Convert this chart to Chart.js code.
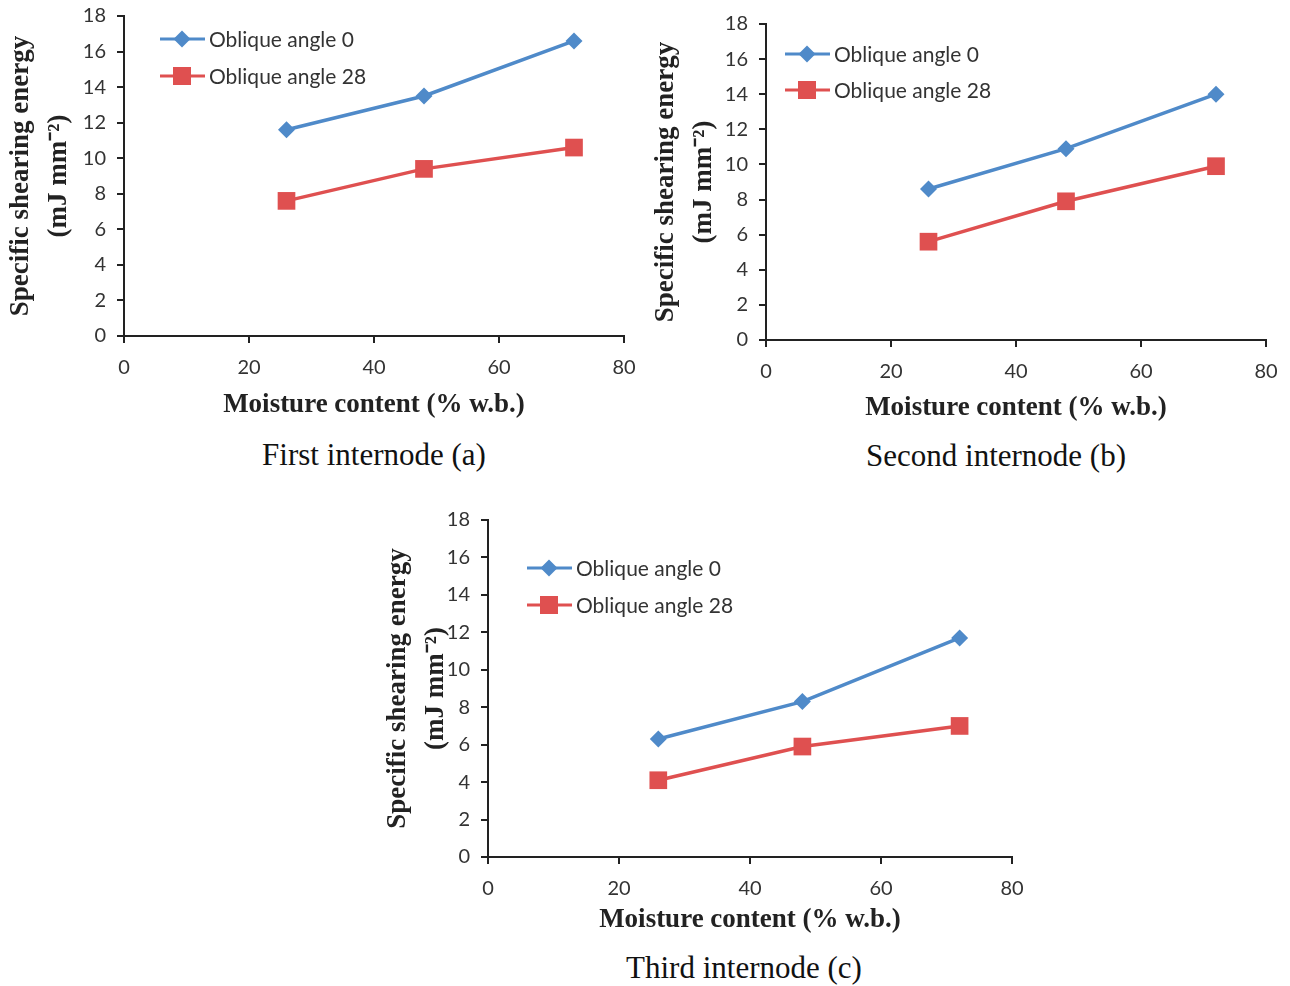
<!DOCTYPE html>
<html>
<head>
<meta charset="utf-8">
<script src="https://cdn.jsdelivr.net/npm/chart.js@4.4.0/dist/chart.umd.min.js"></script>
<style>
  body { margin: 0; background: #fff; }
  #page { position: relative; width: 1290px; height: 986px; overflow: hidden; }
  .box { position: absolute; }
  .caption { position: absolute; font-family: "Liberation Serif", "Times New Roman", serif; font-size: 31px; color: #111; transform: translate(-50%, -50%); white-space: nowrap; }
</style>
</head>
<body>
<div id="page">
  <div class="box" style="left:0px;top:0px"><canvas id="chartA" width="640" height="425"></canvas></div>
  <div class="box" style="left:640px;top:0px"><canvas id="chartB" width="650" height="430"></canvas></div>
  <div class="box" style="left:370px;top:490px"><canvas id="chartC" width="660" height="450"></canvas></div>
  <div class="caption" style="left:374px;top:455px">First internode (a)</div>
  <div class="caption" style="left:996px;top:456px">Second internode (b)</div>
  <div class="caption" style="left:744px;top:968px">Third internode (c)</div>
</div>
<script>
// data
const moisture = [26, 48, 72]
const seriesNames = ['Oblique angle 0', 'Oblique angle 28']

const firstAngle0 = [11.6, 13.5, 16.6]
const firstAngle28 = [7.6, 9.4, 10.6]
const secondAngle0 = [8.6, 10.9, 14.0]
const secondAngle28 = [5.6, 7.9, 9.9]
const thirdAngle0 = [6.3, 8.3, 11.7]
const thirdAngle28 = [4.1, 5.9, 7.0]

const blue = '#4f8ac9'
const red = '#df5050'
const tickFont = { family: 'Lato, "Open Sans", sans-serif', size: 20 }

function drawMarker(ctx, style, x, y, color) {
    ctx.save()
    ctx.fillStyle = color
    ctx.beginPath()
    if (style === 'rectRot') {
        const r = 8.5
        ctx.moveTo(x, y - r)
        ctx.lineTo(x + r, y)
        ctx.lineTo(x, y + r)
        ctx.lineTo(x - r, y)
    } else {
        ctx.rect(x - 9, y - 9, 18, 18)
    }
    ctx.closePath()
    ctx.fill()
    ctx.restore()
}

// legend sits inside the plot area, like the original
const insideLegend = {
    id: 'insideLegend',
    afterDraw(chart, args, opts) {
        const ctx = chart.ctx
        const area = chart.chartArea
        chart.data.datasets.forEach((ds, i) => {
            const x0 = area.left + opts.dx
            const y = area.top + opts.dy + i * opts.gap
            ctx.save()
            ctx.strokeStyle = ds.borderColor
            ctx.lineWidth = 3
            ctx.beginPath()
            ctx.moveTo(x0, y)
            ctx.lineTo(x0 + 45, y)
            ctx.stroke()
            drawMarker(ctx, ds.pointStyle, x0 + 22, y, ds.borderColor)
            ctx.fillStyle = '#333'
            ctx.font = '21px Lato, "Open Sans", sans-serif'
            ctx.textBaseline = 'middle'
            ctx.fillText(ds.label, x0 + 49, y + 1)
            ctx.restore()
        })
    }
}

function makeChart(id, angle0, angle28, lay) {
    const ctx = document.getElementById(id).getContext('2d')
    return new Chart(ctx, {
        type: 'line',
        data: {
            datasets: [{
                label: seriesNames[0],
                data: moisture.map((m, i) => ({ x: m, y: angle0[i] })),
                borderColor: blue,
                backgroundColor: blue,
                borderWidth: 3.5,
                pointStyle: 'rectRot',
                pointRadius: 8.5,
                pointBorderWidth: 0
            }, {
                label: seriesNames[1],
                data: moisture.map((m, i) => ({ x: m, y: angle28[i] })),
                borderColor: red,
                backgroundColor: red,
                borderWidth: 3.5,
                pointStyle: 'rect',
                pointRadius: 12.5,
                pointBorderWidth: 0
            }]
        },
        options: {
            responsive: false,
            animation: false,
            layout: { padding: lay.padding },
            plugins: {
                legend: { display: false },
                tooltip: { enabled: false },
                insideLegend: lay.legend
            },
            scales: {
                x: {
                    type: 'linear',
                    min: 0,
                    max: 80,
                    ticks: { stepSize: 20, color: '#333', padding: 13, font: tickFont },
                    grid: { display: true, drawOnChartArea: false, drawTicks: true, tickLength: 7, color: '#222', lineWidth: 2 },
                    border: { display: true, color: '#222', width: 2 },
                    title: {
                        display: true,
                        text: 'Moisture content (% w.b.)',
                        color: '#222',
                        font: { family: '"Liberation Serif", "Times New Roman", serif', size: 27, weight: 'bold' },
                        padding: { top: 0, bottom: lay.xTitlePad }
                    },
                    afterFit: (s) => {
                        s.height = lay.xHeight
                        s.paddingLeft = 0
                        s.paddingRight = 0
                    }
                },
                y: {
                    min: 0,
                    max: 18,
                    ticks: { stepSize: 2, color: '#333', padding: 11, font: tickFont },
                    grid: { display: true, drawOnChartArea: false, drawTicks: true, tickLength: 7, color: '#222', lineWidth: 2 },
                    border: { display: true, color: '#222', width: 2 },
                    title: {
                        display: true,
                        text: ['Specific shearing energy', '(mJ mm\u207B\u00B2)'],
                        color: '#222',
                        font: { family: '"Liberation Serif", "Times New Roman", serif', size: 27, weight: 'bold', lineHeight: 1.4 },
                        padding: { top: lay.yTitlePad, bottom: 0 }
                    },
                    afterFit: (s) => {
                        s.width = lay.yWidth
                        s.paddingTop = 0
                        s.paddingBottom = 0
                    }
                }
            }
        },
        plugins: [insideLegend]
    })
}

makeChart('chartA', firstAngle0, firstAngle28, {
    padding: { top: 16, right: 16, left: 0, bottom: 0 },
    yWidth: 124, xHeight: 425 - 16 - 320, xTitlePad: 4, yTitlePad: 2,
    legend: { dx: 36, dy: 23, gap: 37 }
})
makeChart('chartB', secondAngle0, secondAngle28, {
    padding: { top: 24, right: 24, left: 0, bottom: 0 },
    yWidth: 126, xHeight: 430 - 24 - 316, xTitlePad: 6, yTitlePad: 7,
    legend: { dx: 19, dy: 30, gap: 36 }
})
makeChart('chartC', thirdAngle0, thirdAngle28, {
    padding: { top: 30, right: 18, left: 0, bottom: 0 },
    yWidth: 118, xHeight: 450 - 30 - 337, xTitlePad: 4, yTitlePad: 9,
    legend: { dx: 39, dy: 48, gap: 37 }
})
</script>
</body>
</html>
